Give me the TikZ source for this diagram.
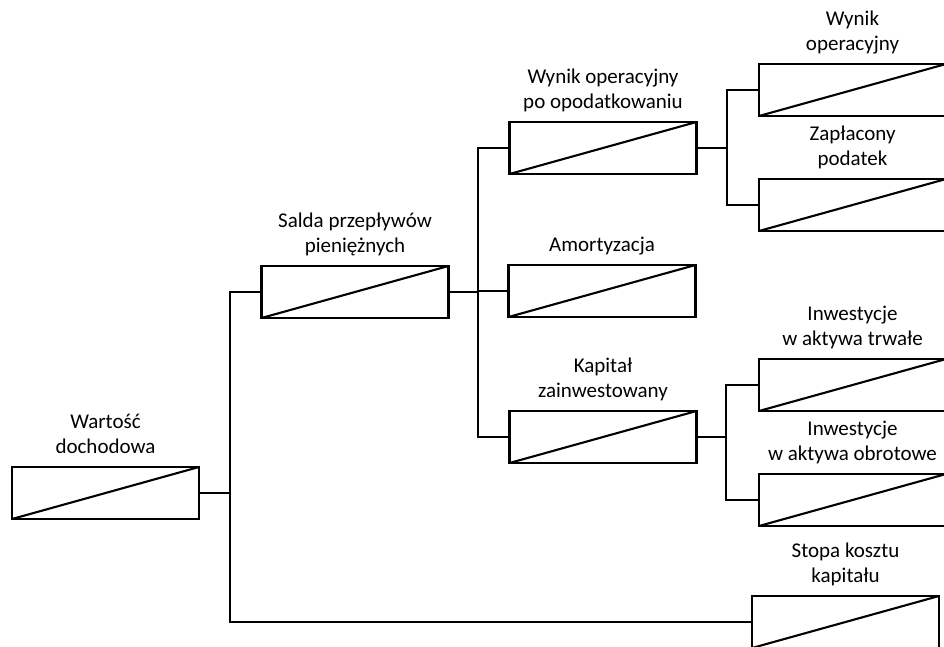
\documentclass[tikz,border=0pt]{standalone}
\usepackage{fontspec}
\setmainfont{Carlito}
\begin{document}
\begin{tikzpicture}[x=1pt,y=-1pt,
  box/.style={draw,line width=2.1pt,rectangle,minimum width=187pt,minimum height=52pt,inner sep=0pt,
    path picture={\draw[line width=2.1pt] (path picture bounding box.south west) -- (path picture bounding box.north east);}},
  lab/.style={font=\fontsize{21}{25.6}\selectfont,align=center,anchor=south,inner sep=0pt,text depth=5pt},
  conn/.style={line width=2.1pt}]
\useasboundingbox (0,0) rectangle (944,647);
\clip (0,0) rectangle (944,647);
% boxes
\node[box] (A) at (105.5,493) {};
\node[box] (B) at (355,292) {};
\node[box] (S) at (845.5,622) {};
\node[box] (C) at (603,148) {};
\node[box] (D) at (602,291) {};
\node[box] (E) at (603,437) {};
\node[box] (F) at (852.5,90) {};
\node[box] (G) at (852.5,205) {};
\node[box] (H) at (852.5,385) {};
\node[box] (I) at (852.5,500) {};
% labels
\node[lab] (lA) at ([yshift=7pt]A.north) {Wartość\\dochodowa};
\node[lab] (lB) at ([yshift=7pt]B.north) {Salda przepływów\\pieniężnych};
\node[lab] (lS) at ([yshift=7pt]S.north) {Stopa kosztu\\kapitału};
\node[lab] (lC) at ([yshift=7pt]C.north) {Wynik operacyjny\\po opodatkowaniu};
\node[lab] (lD) at ([yshift=7pt]D.north) {Amortyzacja};
\node[lab] (lE) at ([yshift=7pt]E.north) {Kapitał\\zainwestowany};
\node[lab] (lF) at ([yshift=7pt]F.north) {Wynik\\operacyjny};
\node[lab] (lG) at ([yshift=7pt]G.north) {Zapłacony\\podatek};
\node[lab] (lH) at ([yshift=7pt]H.north) {Inwestycje\\w aktywa trwałe};
\node[lab] (lI) at ([yshift=7pt]I.north) {Inwestycje\\w aktywa obrotowe};
% trunk coordinates
\coordinate (t1) at (230,292);
\coordinate (t2) at (478,292);
\coordinate (t3) at (727,148);
\coordinate (t4) at (726,437);
% connectors
\draw[conn] (A.east) -- (A.east -| t1);
\draw[conn] (B.west) -- (t1) -- (t1 |- S.west) -- (S.west);
\draw[conn] (B.east) -- (t2);
\draw[conn] (t2 |- D.west) -- (D.west);
\draw[conn] (C.west) -- (C.west -| t2) -- (E.west -| t2) -- (E.west);
\draw[conn] (C.east) -- (t3);
\draw[conn] (F.west) -- (F.west -| t3) -- (G.west -| t3) -- (G.west);
\draw[conn] (E.east) -- (t4);
\draw[conn] (H.west) -- (H.west -| t4) -- (I.west -| t4) -- (I.west);
\end{tikzpicture}
\end{document}
